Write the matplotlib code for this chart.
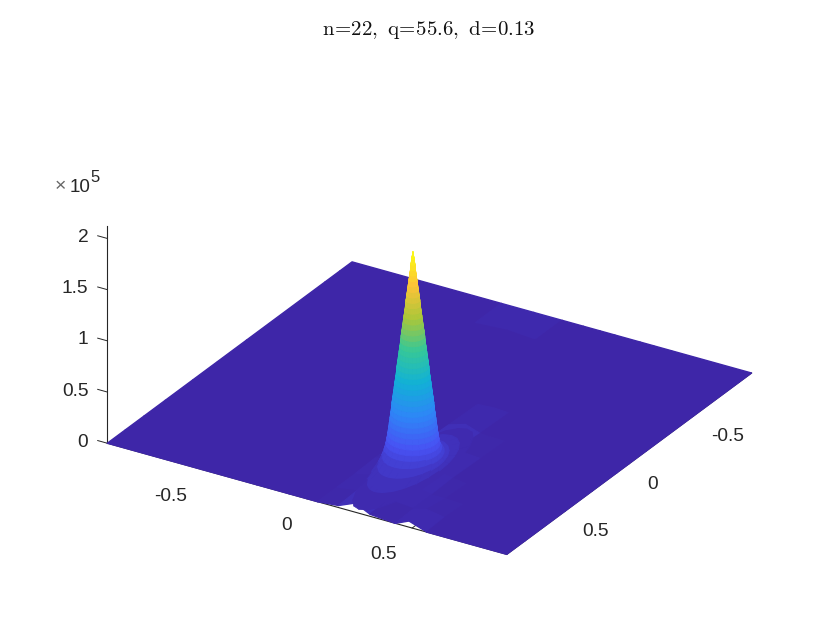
import numpy as np
import matplotlib
matplotlib.use("Agg")
import matplotlib.pyplot as plt
from matplotlib.colors import LinearSegmentedColormap, Normalize
from mpl_toolkits.mplot3d import proj3d

plt.rcParams['font.family'] = ['Liberation Sans', 'DejaVu Sans']

# floor of the surface, z in units of 1e5
grid_x = [-0.95, -0.24, -0.085, 0.05, 0.15, 0.23, 0.30, 0.42, 0.485, 0.57, 0.95]
grid_y = [-0.95, -0.855, -0.74, -0.13, 0.095, 0.285, 0.5, 0.665, 0.81, 0.95]
grid_z = [
    [0, 0, 0.00, 0, 0, 0, 0, 0, 0, 0, 0],
    [0, 0, 0.07, 0, 0, 0, 0, 0, 0, 0, 0],
    [0, 0, 0.02, 0, 0, 0, 0, 0, 0, 0, 0],
    [0, 0, 0, 0, 0, 0.01, 0, 0, 0, 0, 0],
    [0, 0, 0, 0, 0.01, 0.06, 0.01, 0, 0, 0, 0],
    [0, 0, 0, 0, 0.02, 0.15, 0.03, 0.01, 0, 0, 0],
    [0, 0, 0, 0.01, 0.05, 0.30, 0.06, 0.02, 0, 0, 0],
    [0, 0, 0, 0, 0.04, 0.17, 0.05, 0.01, 0.01, 0, 0],
    [0, 0, 0, 0, 0.03, 0.12, 0.03, 0.01, 0.04, 0.01, 0],
    [0, 0, 0, 0, 0.02, 0.09, 0.02, 0, 0.06, 0, 0],
]

# main spike: height and half widths of each ring, long in y near the floor
peak_x = 0.228
peak_y = 0.5
peak_z = [2.12, 2.05, 2.0, 1.95, 1.9, 1.85, 1.8, 1.75, 1.7, 1.65, 1.6, 1.55, 1.5, 1.45, 1.4,
          1.35, 1.3, 1.25, 1.2, 1.15, 1.1, 1.05, 1.0, 0.95, 0.9, 0.85, 0.8, 0.75, 0.7, 0.65,
          0.6, 0.55, 0.5, 0.45, 0.4, 0.35, 0.3, 0.25, 0.2, 0.15, 0.1, 0.05, 0.0]
peak_rx = [0.0, 0.005, 0.008, 0.01, 0.013, 0.016, 0.019, 0.022, 0.025, 0.028, 0.03, 0.033,
           0.036, 0.039, 0.042, 0.045, 0.048, 0.05, 0.053, 0.056, 0.059, 0.062, 0.065, 0.067,
           0.07, 0.073, 0.076, 0.079, 0.082, 0.085, 0.087, 0.09, 0.093, 0.096, 0.099, 0.102,
           0.106, 0.11, 0.114, 0.118, 0.121, 0.124, 0.126]
peak_ry = [0.0, 0.005, 0.008, 0.01, 0.013, 0.016, 0.019, 0.022, 0.025, 0.028, 0.03, 0.033,
           0.036, 0.039, 0.042, 0.045, 0.048, 0.05, 0.053, 0.056, 0.059, 0.062, 0.065, 0.067,
           0.07, 0.073, 0.076, 0.079, 0.082, 0.085, 0.087, 0.09, 0.093, 0.096, 0.099, 0.102,
           0.105, 0.11, 0.125, 0.15, 0.2, 0.3, 0.42]

x_ticks = [-0.5, 0, 0.5]
y_ticks = [-0.5, 0, 0.5]
z_ticks = [0, 0.5, 1, 1.5, 2]
x_labels = ['-0.5', '0', '0.5']
y_labels = ['-0.5', '0', '0.5']
z_labels = ['0', '0.5', '1', '1.5', '2']

parula = LinearSegmentedColormap.from_list('parula', [
    (0.2422, 0.1504, 0.6603), (0.2810, 0.3228, 0.9579), (0.1786, 0.5289, 0.9682),
    (0.0689, 0.6948, 0.8394), (0.2161, 0.7843, 0.5923), (0.6720, 0.7793, 0.2227),
    (0.9970, 0.7659, 0.2199), (0.9769, 0.9839, 0.0805)])
norm = Normalize(0, 2.12)
ink = '#262626'

fig = plt.figure(figsize=(8.3, 6.23), dpi=100)
ax = fig.add_axes([6 / 830, 3.5 / 623, 1, 1], projection='3d', computed_zorder=False)
ax.set_proj_type('ortho')
ax.view_init(elev=27, azim=-58.5)
ax.set_box_aspect((1, 1, 0.52), zoom=1.10)

X, Y = np.meshgrid(grid_x, grid_y)
floor = ax.plot_surface(X, Y, np.array(grid_z), cmap=parula, norm=norm, rstride=1, cstride=1,
                        shade=False, linewidth=1.0, antialiased=True, zorder=1)

theta = np.linspace(0, 2 * np.pi, 25)
PX = peak_x + np.outer(peak_rx, np.cos(theta))
PY = peak_y + np.outer(peak_ry, np.sin(theta))
PZ = np.outer(peak_z, np.ones_like(theta))
spike = ax.plot_surface(PX, PY, PZ, cmap=parula, norm=norm, rstride=1, cstride=1,
                        shade=False, linewidth=0.6, antialiased=True, zorder=2)
for surf in (floor, spike):
    surf.set_edgecolor('face')
    surf.set_clip_on(False)

ax.set_xlim(-0.95, 0.95, view_margin=0)
ax.set_ylim(0.95, -0.95, view_margin=0)
ax.set_zlim(0, 2.12, view_margin=0)
ax.set_xticks(x_ticks, [''] * len(x_ticks))
ax.set_yticks(y_ticks, [''] * len(y_ticks))
ax.set_zticks(z_ticks, [''] * len(z_ticks))
ax.grid(False)
for axis in (ax.xaxis, ax.yaxis, ax.zaxis):
    axis.set_pane_color((1, 1, 1, 0))
    axis.pane.set_edgecolor((1, 1, 1, 0))
    axis.line.set_color(ink)
    axis.line.set_linewidth(0.8)
    axis._axinfo['tick']['inward_factor'] = 0
    axis._axinfo['tick']['outward_factor'] = 0.3
    axis._axinfo['tick']['linewidth'] = {True: 0.7, False: 0.5}
ax.tick_params(axis='both', color=ink)
ax.zaxis.set_ticks_position('upper')


# tick labels sit at a fixed pixel offset from the projected tick
def tick_label(x, y, z, text, dx, dy, ha):
    px, py, _ = proj3d.proj_transform(x, y, z, ax.get_proj())
    ax.annotate(text, (px, py), xytext=(dx * 0.72, -dy * 0.72), textcoords='offset points',
                ha=ha, va='center', fontsize=13.8, color=ink, annotation_clip=False)


for t, s in zip(x_ticks, x_labels):
    tick_label(t, 0.95, 0, s, -15, 26.5, 'right')
for t, s in zip(y_ticks, y_labels):
    tick_label(0.95, t, 0, s, 18, 20.5, 'left')
for t, s in zip(z_ticks, z_labels):
    tick_label(-0.95, 0.95, t, s, -19, -1, 'right')

fig.text(429, 623 - 30, r'$\mathrm{n\!=\!22,\ q\!=\!55.6,\ d\!=\!0.13}$', transform=None,
         ha='center', va='center', fontsize=15, color='#111111', math_fontfamily='cm')
fig.text(55, 623 - 187, '\u00d7', transform=None, ha='left', va='center', fontsize=14, color='#666666')
fig.text(70, 623 - 187, '10', transform=None, ha='left', va='center', fontsize=13.5, color=ink)
fig.text(90, 623 - 178, '5', transform=None, ha='left', va='center', fontsize=12, color=ink)

fig.savefig('out.png', dpi=100)
